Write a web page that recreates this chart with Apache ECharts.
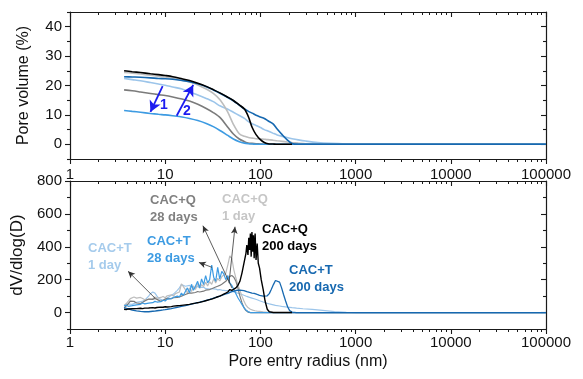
<!DOCTYPE html>
<html>
<head>
<meta charset="utf-8">
<script src="https://cdn.jsdelivr.net/npm/echarts@6/dist/echarts.min.js"></script>
<style>
  html, body { margin: 0; padding: 0; background: #ffffff; }
  #chart { width: 583px; height: 379px; }
</style>
</head>
<body>
<div id="chart"></div>
<script>
// ---- Cumulative pore volume (%) vs pore entry radius (nm) ----
const radiusTop = [3.7, 4.5, 5.5, 7, 8.5, 10, 12, 15, 18, 22,
  27, 32, 38, 45, 52, 60, 68, 75, 82, 90,
  100, 110, 120, 135, 150, 170, 190, 215, 250, 300,
  400, 550, 800, 1200, 2000, 5000, 10000, 30000, 100000];

const volT1 = [22.4, 22.0, 21.6, 21.0, 20.5, 20.1, 19.5, 18.8, 17.8, 16.8,
  15.6, 14.5, 13.0, 12.0, 10.9, 9.8, 8.8, 7.7, 7.0, 6.4,
  5.7, 5.0, 4.5, 3.8, 3.2, 2.7, 2.3, 1.9, 1.5, 1.1,
  0.6, 0.3, 0.1, 0, 0, 0, 0, 0, 0];
const volQ1 = [24.4, 24.2, 23.9, 23.5, 23.2, 22.9, 22.5, 21.9, 21.2, 20.2,
  18.8, 17.3, 15.0, 11.2, 6.8, 3.6, 2.7, 2.3, 2.1, 1.9,
  1.8, 1.7, 1.6, 1.4, 1.2, 1.0, 0.8, 0.6, 0.4, 0.2,
  0.1, 0, 0, 0, 0, 0, 0, 0, 0];
const volQ28 = [18.5, 18.2, 17.8, 17.3, 16.9, 16.6, 16.1, 15.4, 14.7, 13.6,
  12.2, 10.8, 9.0, 6.0, 3.5, 1.8, 0.9, 0.4, 0.3, 0.2,
  0.1, 0, 0, 0, 0, 0, 0, 0, 0, 0,
  0, 0, 0, 0, 0, 0, 0, 0, 0];
const volT28 = [11.5, 11.2, 10.9, 10.5, 10.2, 10.0, 9.7, 9.3, 8.8, 8.1,
  7.1, 6.0, 4.6, 3.1, 1.8, 0.9, 0.4, 0.2, 0.1, 0,
  0, 0, 0, 0, 0, 0, 0, 0, 0, 0,
  0, 0, 0, 0, 0, 0, 0, 0, 0];
const volT200 = [23.0, 22.9, 22.8, 22.6, 22.4, 22.3, 22.1, 21.7, 21.3, 20.6,
  19.6, 18.5, 17.3, 16.0, 14.8, 13.3, 12.0, 11.2, 10.6, 9.9,
  9.3, 8.8, 8.0, 7.0, 5.2, 3.2, 1.6, 0.3, 0, 0,
  0, 0, 0, 0, 0, 0, 0, 0, 0];
const volQ200 = [25.0, 24.7, 24.4, 24.0, 23.7, 23.4, 23.0, 22.3, 21.7, 20.8,
  19.7, 18.6, 17.4, 16.1, 14.9, 13.4, 12.0, 9.3, 5.7, 3.3,
  1.6, 0.6, 0.2, 0.1, 0, 0, 0, 0];

// ---- Differential intrusion dV/dlog(D) vs pore entry radius (nm) ----
const radiusBottom = [3.7, 3.9, 4.1, 4.3, 4.5, 4.7, 5.0, 5.2, 5.5, 5.8,
  6.1, 6.4, 6.7, 7.0, 7.4, 7.8, 8.2, 8.6, 9.0, 9.5,
  10, 10.5, 11, 11.6, 12.2, 12.8, 13.4, 14.1, 14.8, 15.5,
  16.3, 17.1, 18, 18.9, 19.8, 20.8, 21.9, 23, 24.1, 25.3,
  26.6, 27.9, 29.3, 30.8, 32.3, 33.9, 35.6, 37.4, 39.3, 41.2,
  43.3, 45.5, 47.7, 50.1, 52.6, 55.3, 58, 60.9, 64, 67.2,
  70.5, 72, 74, 75.5, 77, 78.5, 80, 81.5, 83, 84.5,
  86, 88, 90, 92.5, 95, 98, 102, 107, 112, 118,
  124, 130, 137, 144, 151, 159, 167, 175, 184, 193,
  203, 215, 240, 280, 350, 450, 600, 800, 1000, 2000,
  5000, 10000, 30000, 100000];

const dvT1 = [45, 48, 52, 55, 50, 58, 62, 60, 66, 70,
  75, 85, 100, 115, 125, 118, 100, 85, 78, 75,
  80, 88, 95, 105, 112, 120, 135, 150, 170, 180,
  160, 150, 165, 155, 160, 150, 158, 152, 148, 155,
  145, 150, 142, 146, 140, 143, 138, 140, 136, 138,
  133, 134, 130, 131, 126, 122, 118, 114, 110, 105,
  100, 98, 96, 94, 92, 90, 89, 88, 86, 85,
  84, 82, 80, 78, 75, 72, 68, 64, 60, 56,
  53, 50, 47, 44, 42, 40, 38, 36, 35, 33,
  32, 30, 27, 23, 19, 13, 6, 2, 0, 0,
  0, 0, 0, 0];
const dvQ1 = [42, 55, 70, 85, 78, 95, 88, 80, 92, 85,
  78, 86, 80, 90, 84, 95, 88, 82, 92, 98,
  90, 102, 95, 108, 100, 115, 105, 125, 175, 185,
  140, 120, 150, 128, 162, 140, 176, 148, 170, 158,
  185, 162, 188, 172, 205, 180, 208, 192, 218, 206,
  240, 290, 345, 330, 260, 210, 170, 135, 100, 70,
  45, 38, 30, 25, 22, 20, 18, 16, 15, 14,
  12, 11, 10, 9, 8, 7, 6, 4, 3, 2,
  1, 0, 0, 0, 0, 0, 0, 0, 0, 0,
  0, 0, 0, 0, 0, 0, 0, 0, 0, 0,
  0, 0, 0, 0];
const dvQ28 = [30, 40, 55, 70, 75, 68, 58, 52, 55, 62,
  70, 78, 82, 76, 80, 86, 80, 72, 68, 75,
  82, 86, 80, 85, 90, 86, 92, 95, 100, 105,
  110, 115, 120, 118, 125, 122, 128, 125, 132, 130,
  136, 134, 140, 145, 150, 155, 160, 165, 172, 180,
  190, 205, 220, 225, 215, 190, 150, 100, 60, 30,
  12, 6, 3, 1, 0, 0, 0, 0, 0, 0,
  0, 0, 0, 0, 0, 0, 0, 0, 0, 0,
  0, 0, 0, 0, 0, 0, 0, 0, 0, 0,
  0, 0, 0, 0, 0, 0, 0, 0, 0, 0,
  0, 0, 0, 0];
const dvT28 = [40, 45, 38, 48, 42, 52, 47, 55, 50, 58,
  53, 62, 57, 65, 60, 68, 64, 72, 66, 75,
  70, 82, 76, 85, 92, 84, 100, 95, 118, 105,
  128, 150, 120, 172, 135, 160, 190, 150, 205, 170,
  225, 180, 200, 288, 215, 190, 275, 205, 250, 235,
  200, 225, 180, 165, 140, 115, 90, 70, 50, 30,
  15, 10, 6, 3, 1, 0, 0, 0, 0, 0,
  0, 0, 0, 0, 0, 0, 0, 0, 0, 0,
  0, 0, 0, 0, 0, 0, 0, 0, 0, 0,
  0, 0, 0, 0, 0, 0, 0, 0, 0, 0,
  0, 0, 0, 0];
const dvT200 = [30, 26, 22, 18, 15, 12, 10, 8, 7, 6,
  5, 6, 5, 7, 8, 9, 11, 12, 14, 16,
  18, 20, 22, 24, 27, 29, 32, 34, 37, 39,
  42, 45, 48, 51, 54, 57, 60, 63, 66, 70,
  73, 76, 80, 84, 88, 92, 96, 100, 104, 108,
  113, 117, 122, 127, 131, 134, 136, 137, 135, 133,
  129, 127, 124, 126, 122, 120, 121, 118, 119, 116,
  117, 114, 112, 110, 108, 105, 102, 100, 98, 102,
  115, 140, 170, 195, 205, 185, 150, 110, 70, 35,
  12, 3, 0, 0, 0, 0, 0, 0, 0, 0,
  0, 0, 0, 0];
const dvQ200 = [20, 18, 22, 19, 23, 21, 24, 22, 26, 24,
  27, 25, 28, 27, 30, 28, 31, 30, 33, 32,
  35, 34, 37, 36, 39, 38, 41, 42, 44, 45,
  47, 49, 50, 53, 55, 57, 60, 62, 66, 68,
  72, 75, 79, 82, 87, 91, 96, 100, 106, 112,
  118, 125, 140, 135, 142, 150, 165, 190, 240, 300,
  360, 410, 350, 455, 380, 480, 340, 490, 370, 470,
  330, 480, 320, 420, 300, 270, 200, 140, 70, 20,
  5, 0, 0, 0, 0, 0, 0, 0, 0, 0,
  0, 0];

// ---- Axis ticks ----
const xMajorTicks = [1, 10, 100, 1000, 10000, 100000];
const volTicks = [0, 10, 20, 30, 40];
const volMinorTicks = [-5, 5, 15, 25, 35, 45];
const dvTicks = [0, 200, 400, 600, 800];
const dvMinorTicks = [-100, 100, 300, 500, 700];

// minor log ticks 2..9 within each decade
const xMinorTicks = [];
for (let d = 1; d < 100000; d *= 10) {
  for (let m = 2; m <= 9; m++) xMinorTicks.push(m * d);
}

// ---- Annotations (data coordinates) ----
const trendArrows = [            // [from, to] in (radius, volume)
  [[9.4, 19.8], [7.0, 11.0]],
  [[13.2, 9.7], [19.7, 20.2]]
];
const pointerArrows = [          // [from, to] in (radius, dV/dlog(D))
  [[7.8, 88], [4.07, 251]],
  [[31.0, 275], [22.6, 305]],
  [[50.3, 149], [24.9, 528]],
  [[46.8, 179], [54.1, 522]]
];

const COLORS = {
  t1: '#9cc5ea', t28: '#3d9be2', t200: '#1668b0',
  q1: '#bdbdbd', q28: '#7b7b7b', q200: '#000000'
};
const FONT = '"Liberation Sans", Arial, Helvetica, sans-serif';
const AXIS_COLOR = '#1a1a1a';

function pairs(xs, ys) {
  const n = Math.min(xs.length, ys.length);
  const out = [];
  for (let i = 0; i < n; i++) out.push([xs[i], ys[i]]);
  return out;
}

function xAxisPair(gridIndex, position, inside, showLabels, extra) {
  const base = {
    type: 'log', logBase: 10, gridIndex: gridIndex, position: position,
    min: 1, max: 100000, splitLine: { show: false }
  };
  const major = Object.assign({}, base, {
    axisLine: { show: true, onZero: false, lineStyle: { color: AXIS_COLOR, width: 1.2 } },
    axisTick: { show: true, inside: inside, length: 5, customValues: xMajorTicks,
      lineStyle: { color: AXIS_COLOR, width: 1.1 } },
    axisLabel: showLabels ? {
      show: true, customValues: xMajorTicks, formatter: function (v) { return String(v); },
      fontSize: 15, fontFamily: FONT, color: '#111111', margin: showLabels.margin
    } : { show: false }
  }, extra || {});
  const minor = Object.assign({}, base, {
    axisLine: { show: false, onZero: false },
    axisTick: { show: true, inside: inside, length: 3, customValues: xMinorTicks,
      lineStyle: { color: AXIS_COLOR, width: 1 } },
    axisLabel: { show: false }
  });
  return [major, minor];
}

function yAxisSet(gridIndex, min, max, majors, minors, name, nameSize) {
  const base = { type: 'value', gridIndex: gridIndex, min: min, max: max, splitLine: { show: false } };
  const line = { show: true, onZero: false, lineStyle: { color: AXIS_COLOR, width: 1.2 } };
  const tickStyle = { color: AXIS_COLOR, width: 1.1 };
  return [
    Object.assign({}, base, {
      position: 'left', axisLine: line,
      axisTick: { show: true, inside: false, length: 5, customValues: majors, lineStyle: tickStyle },
      axisLabel: { show: true, customValues: majors, fontSize: 15, fontFamily: FONT, color: '#111111', margin: 8 },
      name: name, nameLocation: 'middle', nameGap: 38,
      nameTextStyle: { fontSize: nameSize, fontFamily: FONT, color: '#111111' }
    }),
    Object.assign({}, base, {
      position: 'left', axisLine: { show: false, onZero: false },
      axisTick: { show: true, inside: false, length: 3, customValues: minors, lineStyle: tickStyle },
      axisLabel: { show: false }
    }),
    Object.assign({}, base, {
      position: 'right', axisLine: line,
      axisTick: { show: true, inside: true, length: 5, customValues: majors, lineStyle: tickStyle },
      axisLabel: { show: false }
    }),
    Object.assign({}, base, {
      position: 'right', axisLine: { show: false, onZero: false },
      axisTick: { show: true, inside: true, length: 3, customValues: minors, lineStyle: tickStyle },
      axisLabel: { show: false }
    })
  ];
}

const xAxes = [].concat(
  xAxisPair(0, 'bottom', false, null),          // 0,1
  xAxisPair(0, 'top', true, null),              // 2,3
  xAxisPair(1, 'top', true, { margin: -1 }),    // 4,5
  xAxisPair(1, 'bottom', false, { margin: 6 }, {
    name: 'Pore entry radius (nm)', nameLocation: 'middle', nameGap: 25,
    nameTextStyle: { fontSize: 16, fontFamily: FONT, color: '#111111' }
  })                                            // 6,7
);
const yAxes = [].concat(
  yAxisSet(0, -5, 45, volTicks, volMinorTicks, 'Pore volume (%)', 16),   // 0..3
  yAxisSet(1, -100, 800, dvTicks, dvMinorTicks, 'dV/dlog(D)', 17)        // 4..7
);

function curve(name, xs, ys, color, width, panel) {
  return {
    name: name, type: 'line', data: pairs(xs, ys),
    xAxisIndex: panel === 0 ? 0 : 6, yAxisIndex: panel === 0 ? 0 : 4,
    showSymbol: false, symbol: 'none',
    smooth: panel === 0 ? 0.3 : false,
    lineStyle: { color: color, width: width },
    itemStyle: { color: color },
    silent: true
  };
}

const series = [
  curve('CAC+T 1 day', radiusTop, volT1, COLORS.t1, 1.6, 0),
  curve('CAC+Q 1 day', radiusTop, volQ1, COLORS.q1, 1.6, 0),
  curve('CAC+Q 28 days', radiusTop, volQ28, COLORS.q28, 1.6, 0),
  curve('CAC+T 28 days', radiusTop, volT28, COLORS.t28, 1.6, 0),
  curve('CAC+T 200 days', radiusTop, volT200, COLORS.t200, 1.6, 0),
  curve('CAC+Q 200 days', radiusTop, volQ200, COLORS.q200, 1.6, 0),

  curve('CAC+T 1 day', radiusBottom, dvT1, COLORS.t1, 1.2, 1),
  curve('CAC+Q 1 day', radiusBottom, dvQ1, COLORS.q1, 1.2, 1),
  curve('CAC+Q 28 days', radiusBottom, dvQ28, COLORS.q28, 1.2, 1),
  curve('CAC+T 28 days', radiusBottom, dvT28, COLORS.t28, 1.2, 1),
  curve('CAC+T 200 days', radiusBottom, dvT200, COLORS.t200, 1.3, 1),
  curve('CAC+Q 200 days', radiusBottom, dvQ200, COLORS.q200, 1.4, 1),

  {
    type: 'line', data: [], xAxisIndex: 0, yAxisIndex: 0, silent: true,
    markLine: {
      silent: true, animation: false, symbol: ['none', 'arrow'], symbolSize: [9, 11],
      label: { show: false },
      lineStyle: { color: '#1c1cf0', width: 1.8, type: 'solid' },
      emphasis: { disabled: true },
      data: trendArrows.map(function (a) { return [{ coord: a[0] }, { coord: a[1] }]; })
    }
  },
  {
    type: 'line', data: [], xAxisIndex: 6, yAxisIndex: 4, silent: true,
    markLine: {
      silent: true, animation: false, symbol: ['none', 'arrow'], symbolSize: [5, 7],
      label: { show: false },
      lineStyle: { color: '#333333', width: 0.8, type: 'solid' },
      emphasis: { disabled: true },
      data: pointerArrows.map(function (a) { return [{ coord: a[0] }, { coord: a[1] }]; })
    }
  }
];

// ---- Curve captions ----
const captions = [
  { text: 'CAC+T\n1 day', color: '#a5cbec', x: 88, y: 240 },
  { text: 'CAC+T\n28 days', color: '#3d9be2', x: 147, y: 233 },
  { text: 'CAC+Q\n28 days', color: '#808080', x: 150, y: 192 },
  { text: 'CAC+Q\n1 day', color: '#c6c6c6', x: 222, y: 191 },
  { text: 'CAC+Q\n200 days', color: '#000000', x: 262, y: 221 },
  { text: 'CAC+T\n200 days', color: '#1668b0', x: 289, y: 262 }
];
const arrowNumbers = [
  { text: '1', x: 164, y: 105 },
  { text: '2', x: 187, y: 111 }
];

const graphic = captions.map(function (c) {
  return {
    type: 'text', x: c.x, y: c.y, silent: true,
    style: { text: c.text, fill: c.color, font: 'bold 13px ' + FONT, lineHeight: 17, verticalAlign: 'top' }
  };
}).concat(arrowNumbers.map(function (n) {
  return {
    type: 'text', x: n.x, y: n.y, silent: true,
    style: { text: n.text, fill: '#1c1cf0', font: 'bold 14px ' + FONT, align: 'center', verticalAlign: 'middle' }
  };
}));

const chart = echarts.init(document.getElementById('chart'), null, { renderer: 'canvas' });
chart.setOption({
  animation: false,
  backgroundColor: '#ffffff',
  textStyle: { fontFamily: FONT },
  grid: [
    { left: 70, top: 12, width: 476, height: 147 },
    { left: 70, top: 181, width: 476, height: 148 }
  ],
  xAxis: xAxes,
  yAxis: yAxes,
  series: series,
  graphic: graphic
});
</script>
</body>
</html>
